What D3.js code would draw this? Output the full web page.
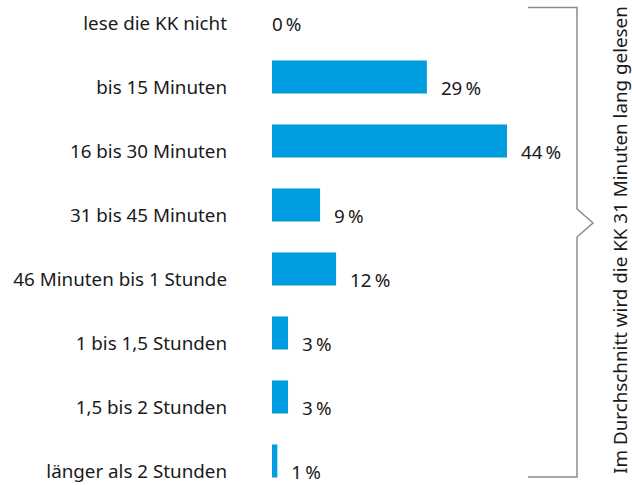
<!DOCTYPE html>
<html>
<head>
<meta charset="utf-8">
<script src="https://cdn.jsdelivr.net/npm/d3@7"></script>
<style>
  html, body { margin: 0; padding: 0; background: #fff; }
  svg { display: block; }
</style>
</head>
<body>
<svg id="chart" width="632" height="485"></svg>
<script>
const categories = [
  "lese die KK nicht",
  "bis 15 Minuten",
  "16 bis 30 Minuten",
  "31 bis 45 Minuten",
  "46 Minuten bis 1 Stunde",
  "1 bis 1,5 Stunden",
  "1,5 bis 2 Stunden",
  "länger als 2 Stunden"
]
const values = [0, 29, 44, 9, 12, 3, 3, 1]
const note = "Im Durchschnitt wird die KK 31 Minuten lang gelesen"

const svg = d3.select("#chart")
const font = "'Noto Sans', sans-serif"
const fontSize = "18.8px"
const textColor = "#1a1a1a"
const barColor = "#009ee0"

const x = d3.scaleLinear().domain([0, 44]).range([272, 507])
const y = d3.scaleBand()
    .domain(categories)
    .range([-19, 493])
    .paddingInner(0.484)
    .paddingOuter(0.242)

const data = categories.map((c, i) => ({name: c, value: values[i]}))

// bars
svg.append("g")
  .selectAll("rect")
  .data(data)
  .join("rect")
    .attr("x", x(0))
    .attr("y", d => y(d.name))
    .attr("width", d => x(d.value) - x(0))
    .attr("height", y.bandwidth())
    .attr("fill", barColor)

// category labels
svg.append("g")
    .style("font", `${fontSize} ${font}`)
    .attr("fill", textColor)
  .selectAll("text")
  .data(data)
  .join("text")
    .attr("x", 227)
    .attr("y", d => y(d.name) + y.bandwidth())
    .attr("text-anchor", "end")
    .text(d => d.name)

// value labels
svg.append("g")
    .style("font", `${fontSize} ${font}`)
    .attr("fill", textColor)
  .selectAll("text")
  .data(data)
  .join("text")
    .attr("x", d => x(d.value) + (d.value > 0 ? 14 : 0))
    .attr("y", d => y(d.name) + y.bandwidth() + 1)
    .text(d => d.value + "\u2009%")

// bracket
const brTop = 7.5, brBottom = 477, brMid = 223
svg.append("path")
    .attr("d", `M528,${brTop} H577 V${brMid - 14} L593,${brMid} L577,${brMid + 14} V${brBottom} H528`)
    .attr("fill", "none")
    .attr("stroke", "#8a8a8a")
    .attr("stroke-width", 1.5)

svg.append("text")
    .attr("transform", `translate(627,${(7 + 473) / 2}) rotate(-90)`)
    .attr("text-anchor", "middle")
    .style("font", `${fontSize} ${font}`)
    .attr("fill", textColor)
    .text(note)
</script>
</body>
</html>
